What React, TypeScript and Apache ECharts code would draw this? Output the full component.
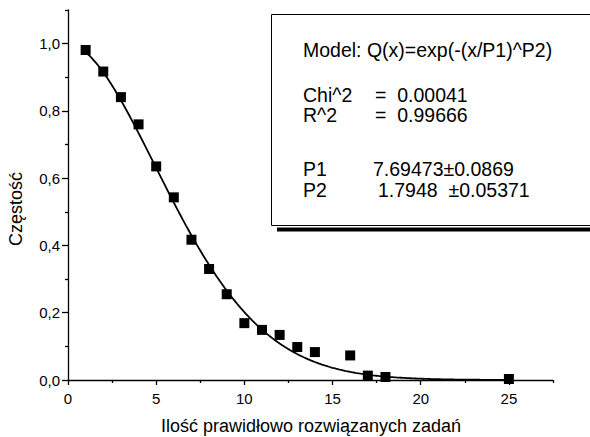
import React, { useEffect, useRef } from "react";
import * as echarts from "echarts";

const xValues = [1, 2, 3, 4, 5, 6, 7, 8, 9, 10, 11, 12, 13, 14, 16, 17, 18, 25];
const yValues = [0.981, 0.917, 0.841, 0.76, 0.635, 0.543, 0.417, 0.33, 0.255, 0.169, 0.149, 0.134, 0.098, 0.083, 0.073, 0.013, 0.009, 0.003];

// Fit parameters shown in the chart's box
const P1 = 7.69473;
const P2 = 1.7948;
const fitStart = 1;
const fitEnd = 25;
const fitStep = 0.1;

const xMajorTicks = [0, 5, 10, 15, 20, 25];
const xMinorTicks = [2.5, 7.5, 12.5, 17.5, 22.5, 27.5];
const yMajorTicks = [0, 0.2, 0.4, 0.6, 0.8, 1.0];
const yMinorTicks = [0.1, 0.3, 0.5, 0.7, 0.9, 1.1];

const xTitle = "Ilość prawidłowo rozwiązanych zadań";
const yTitle = "Częstość";
const boxLines = [
  "Model: Q(x)=exp(-(x/P1)^P2)",
  "Chi^2", "=  0.00041",
  "R^2", "=  0.99666",
  "P1", "7.69473±0.0869",
  "P2", "1.7948  ±0.05371",
];

const FONT = "'Liberation Sans', Arial, sans-serif";

export default function App() {
  const ref = useRef<HTMLDivElement>(null);
  useEffect(() => {
    if (!ref.current) return;
    const chart = echarts.init(ref.current, null, { renderer: "svg" });
    const fit: number[][] = [];
    const n = Math.round((fitEnd - fitStart) / fitStep);
    for (let i = 0; i <= n; i++) {
      const x = fitStart + i * fitStep;
      fit.push([x, Math.exp(-Math.pow(x / P1, P2))]);
    }
    const scatter = xValues.map((x, i) => [x, yValues[i]]);
    const fs = 19.5;
    const txt = (s: string, x: number, baseline: number) => ({
      type: "text",
      x,
      y: baseline - 0.35 * fs,
      z: 10,
      style: { text: s, fill: "#000", fontSize: fs, fontFamily: FONT, verticalAlign: "middle", align: "left" },
    });
    const axisCommon = {
      type: "value",
      splitLine: { show: false },
    };
    chart.setOption({
      animation: false,
      backgroundColor: "#fff",
      grid: { left: 68, right: 37, top: 10, bottom: 57, containLabel: false, outerBoundsMode: "none" },
      xAxis: [
        {
          ...axisCommon,
          min: 0,
          max: 27.5,
          interval: 5,
          axisLine: { show: true, lineStyle: { color: "#000", width: 1.3 } },
          axisTick: { show: true, inside: false, length: 5, customValues: xMajorTicks, lineStyle: { color: "#000", width: 1.3 } },
          axisLabel: { customValues: xMajorTicks, color: "#000", fontSize: 15, fontFamily: FONT, margin: 11, formatter: (v: number) => String(v) },
        },
        {
          ...axisCommon,
          position: "bottom",
          min: 0,
          max: 27.5,
          interval: 5,
          axisLine: { show: false },
          axisTick: { show: true, inside: false, length: 3, customValues: xMinorTicks, lineStyle: { color: "#000", width: 1.3 } },
          axisLabel: { show: false },
        },
      ],
      yAxis: [
        {
          ...axisCommon,
          min: 0,
          max: 1.1,
          interval: 0.2,
          axisLine: { show: true, lineStyle: { color: "#000", width: 1.3 } },
          axisTick: { show: true, inside: false, length: 6, customValues: yMajorTicks, lineStyle: { color: "#000", width: 1.3 } },
          axisLabel: { customValues: yMajorTicks, color: "#000", fontSize: 15, fontFamily: FONT, margin: 8, formatter: (v: number) => v.toFixed(1).replace(".", ",") },
        },
        {
          ...axisCommon,
          position: "left",
          min: 0,
          max: 1.1,
          interval: 0.2,
          axisLine: { show: false },
          axisTick: { show: true, inside: false, length: 3, customValues: yMinorTicks, lineStyle: { color: "#000", width: 1.3 } },
          axisLabel: { show: false },
        },
      ],
      graphic: [
        {
          type: "rect",
          shape: { x: 277, y: 227.5, width: 330, height: 4 },
          style: { fill: "#000" },
          z: 5,
        },
        {
          type: "rect",
          shape: { x: 271.5, y: 14.5, width: 340, height: 211 },
          style: { fill: "#fff", stroke: "#000", lineWidth: 1 },
          z: 6,
        },
        txt(boxLines[0], 303, 57),
        txt(boxLines[1], 303, 101.5),
        txt(boxLines[2], 375, 101.5),
        txt(boxLines[3], 303, 122),
        txt(boxLines[4], 375, 122),
        txt(boxLines[5], 303, 176),
        txt(boxLines[6], 373, 176),
        txt(boxLines[7], 303, 196.5),
        txt(boxLines[8], 378, 196.5),
        {
          type: "text",
          x: 311,
          y: 426,
          style: { text: xTitle, fill: "#000", fontSize: 18, fontFamily: FONT, align: "center", verticalAlign: "middle" },
        },
        {
          type: "text",
          x: 16,
          y: 209,
          rotation: Math.PI / 2,
          style: { text: yTitle, fill: "#000", fontSize: 18, fontFamily: FONT, align: "center", verticalAlign: "middle" },
        },
      ],
      series: [
        {
          type: "line",
          data: fit,
          xAxisIndex: 0,
          yAxisIndex: 0,
          showSymbol: false,
          symbol: "none",
          lineStyle: { color: "#000", width: 1.8 },
          z: 2,
        },
        {
          type: "scatter",
          data: scatter,
          xAxisIndex: 0,
          yAxisIndex: 0,
          symbol: "rect",
          symbolSize: 10,
          itemStyle: { color: "#000", opacity: 1 },
          z: 3,
        },
      ],
    });
    return () => chart.dispose();
  }, []);
  return <div ref={ref} style={{ position: "absolute", left: 0, top: 0, width: 590, height: 437 }} />;
}
